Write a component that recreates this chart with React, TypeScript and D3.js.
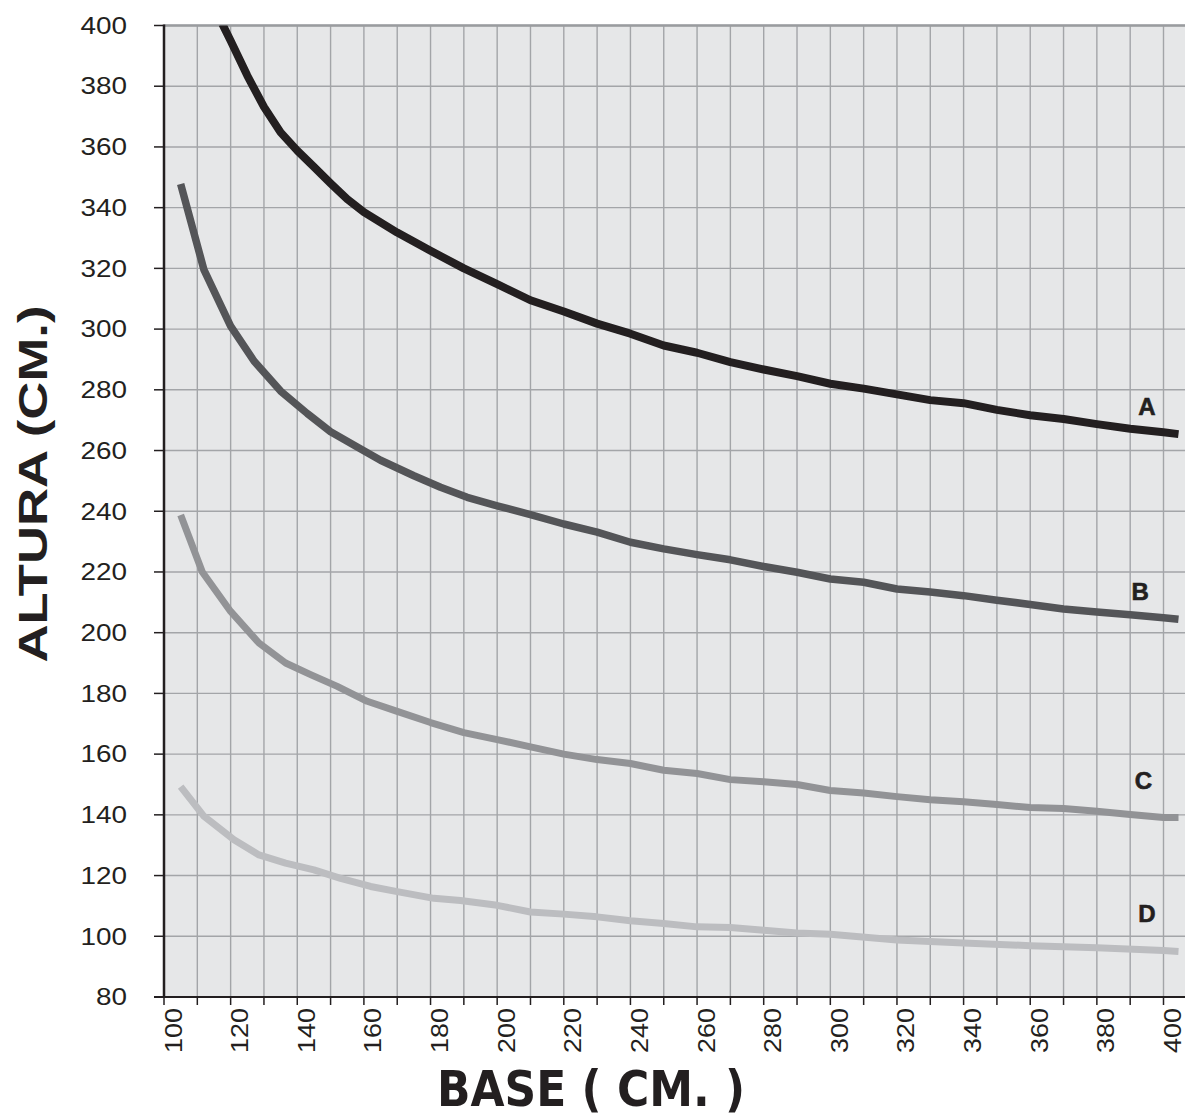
import React from "react";
import * as d3 from "d3";

const xTicksMajor = [100, 120, 140, 160, 180, 200, 220, 240, 260, 280, 300, 320, 340, 360, 380, 400];
const xGrid = d3.range(100, 401, 10);
const yTicks = [80, 100, 120, 140, 160, 180, 200, 220, 240, 260, 280, 300, 320, 340, 360, 380, 400];

const seriesNames = ["A", "B", "C", "D"];
const seriesColors = ["#231f20", "#545558", "#929396", "#bcbdc0"];
const seriesWidths = [8, 7.5, 7, 7];

const aX = [117.5, 120, 125, 130, 135, 140, 145, 150, 155, 160, 170, 180, 190, 200, 210, 220, 230, 240, 250, 260, 270, 280, 290, 300, 310, 320, 330, 340, 350, 360, 370, 380, 390, 400, 404.5];
const aY = [400.5, 395, 383.5, 373.2, 364.8, 358.8, 353.4, 348, 342.8, 338.5, 331.8, 325.8, 320, 314.8, 309.5, 305.8, 301.8, 298.5, 294.6, 292.2, 289.1, 286.7, 284.5, 282, 280.4, 278.5, 276.6, 275.6, 273.4, 271.6, 270.4, 268.7, 267.2, 266, 265.4];

const bX = [105, 112, 120, 127, 135, 143, 150, 158, 165, 175, 183, 191, 200, 210, 220, 230, 240, 250, 260, 270, 280, 290, 300, 310, 320, 330, 340, 350, 360, 370, 380, 390, 400, 404.5];
const bY = [347.8, 319.5, 301, 289.5, 279.6, 272.2, 266.2, 261.2, 256.8, 251.7, 247.9, 244.6, 241.8, 238.9, 235.8, 233.1, 229.8, 227.6, 225.7, 224, 221.8, 219.9, 217.7, 216.6, 214.4, 213.4, 212.2, 210.7, 209.3, 207.8, 206.8, 205.9, 204.9, 204.4];

const cX = [105, 111.5, 120, 128.5, 136.5, 144, 152, 161, 170, 180, 190, 200, 210, 220, 230, 240, 250, 260, 270, 280, 290, 300, 310, 320, 330, 340, 350, 360, 370, 380, 390, 400, 404.5];
const cY = [238.8, 220, 207, 196.6, 190, 186.2, 182.3, 177.4, 174.1, 170.4, 167.1, 164.8, 162.4, 160, 158.2, 156.9, 154.7, 153.6, 151.6, 150.9, 150, 148, 147.2, 146, 145, 144.3, 143.4, 142.4, 142.1, 141.2, 140.1, 139.1, 139.1];

const dX = [105, 112, 121, 128.5, 136.5, 145, 153, 162, 170, 181, 189, 200, 210, 220, 230, 240, 250, 260, 270, 280, 290, 300, 320, 340, 360, 380, 400, 404.5];
const dY = [149.3, 139.5, 131.8, 126.8, 124.1, 121.9, 119.1, 116.4, 114.7, 112.5, 111.8, 110.2, 108, 107.3, 106.4, 105.1, 104.2, 103.1, 102.9, 102, 101.1, 100.7, 98.8, 97.8, 96.9, 96.2, 95.3, 95];

const labelX = [395, 393, 394, 395];
const labelY = [274.7, 213.7, 151.2, 107.4];

const W = 1185;
const H = 1120;
const ink = "#231f20";
const gridColor = "#a3a5a8";

export default function App() {
  const x = d3.scaleLinear().domain([100, 400]).range([164, 1163.5]);
  const y = d3.scaleLinear().domain([80, 400]).range([997, 25.5]);
  const line = d3
    .line<[number, number]>()
    .x((d) => x(d[0]))
    .y((d) => y(d[1]))
    .curve(d3.curveLinear);
  const allX = [aX, bX, cX, dX];
  const allY = [aY, bY, cY, dY];
  const top = y(400);
  const bottom = y(80);
  const left = x(100);

  return (
    <svg
      width={W}
      height={H}
      style={{ position: "absolute", left: 0, top: 0, background: "#fff" }}
      fontFamily="'Liberation Sans', Arial, Helvetica, sans-serif"
    >
      <defs>
        <clipPath id="plotClip">
          <rect x={left} y={top} width={W - left} height={bottom - top} />
        </clipPath>
      </defs>
      <rect x={left} y={top} width={W - left} height={bottom - top} fill="#e6e7e8" />
      {xGrid.map((v) => (
        <line key={"gx" + v} x1={x(v)} x2={x(v)} y1={top} y2={bottom} stroke={gridColor} strokeWidth={1.4} />
      ))}
      {yTicks.map((v) => (
        <line key={"gy" + v} x1={left} x2={W} y1={y(v)} y2={y(v)} stroke={gridColor} strokeWidth={1.4} />
      ))}
      <line x1={left} x2={W} y1={top} y2={top} stroke="#9a9c9f" strokeWidth={2.5} />
      <g clipPath="url(#plotClip)">
        {seriesNames.map((n, i) => (
          <path
            key={n}
            d={line(allX[i].map((xv, j) => [xv, allY[i][j]] as [number, number])) || ""}
            fill="none"
            stroke={seriesColors[i]}
            strokeWidth={seriesWidths[i]}
            strokeLinejoin="round"
            strokeLinecap="butt"
          />
        ))}
      </g>
      {seriesNames.map((n, i) => (
        <text
          key={"lab" + n}
          x={x(labelX[i])}
          y={y(labelY[i])}
          dy="0.36em"
          textAnchor="middle"
          fontSize={24}
          fontWeight="bold"
          fill={ink}
          stroke={ink}
          strokeWidth={0.6}
        >
          {n}
        </text>
      ))}
      <line x1={left} x2={left} y1={top - 1} y2={bottom} stroke={ink} strokeWidth={2.5} />
      <line x1={left - 10} x2={W} y1={bottom} y2={bottom} stroke={ink} strokeWidth={2} />
      {yTicks.map((v) => (
        <g key={"yt" + v}>
          <line x1={left - 10} x2={left} y1={y(v)} y2={y(v)} stroke={ink} strokeWidth={1.5} />
          <text
            x={127}
            y={y(v)}
            dy="0.36em"
            textAnchor="end"
            fontSize={23}
            fill={ink}
            textLength={String(v).length * 15.5}
            lengthAdjust="spacingAndGlyphs"
          >
            {v}
          </text>
        </g>
      ))}
      {xGrid.map((v) => (
        <line key={"xt" + v} x1={x(v)} x2={x(v)} y1={bottom} y2={bottom + 8} stroke={ink} strokeWidth={1.5} />
      ))}
      {xTicksMajor.map((v) => (
        <text
          key={"xl" + v}
          transform={`translate(${x(v) + 17.5},${bottom + 11}) rotate(-90)`}
          textAnchor="end"
          fontSize={24}
          fill={ink}
          textLength={45}
          lengthAdjust="spacingAndGlyphs"
        >
          {v}
        </text>
      ))}
      <text
        transform={`translate(47,${484}) rotate(-90)`}
        textAnchor="middle"
        fontSize={40}
        fontWeight="bold"
        fill={ink}
        textLength={357}
        lengthAdjust="spacingAndGlyphs"
      >
        ALTURA (CM.)
      </text>
      <text
        x={591}
        y={1106}
        textAnchor="middle"
        fontSize={49}
        fontWeight="bold"
        fontFamily="'Liberation Sans Narrow', 'DejaVu Sans Condensed', sans-serif"
        fill={ink}
        textLength={308}
        lengthAdjust="spacingAndGlyphs"
      >
        BASE ( CM. )
      </text>
    </svg>
  );
}
